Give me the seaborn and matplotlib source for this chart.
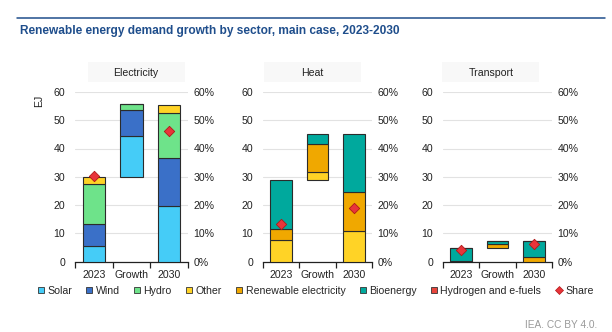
import numpy as np
import pandas as pd
import matplotlib
matplotlib.use("Agg")
import matplotlib.pyplot as plt
import seaborn as sns
from matplotlib.lines import Line2D
from matplotlib.patches import Rectangle

sns.set_theme(style="white")
plt.rcParams['font.family'] = ['Liberation Sans', 'DejaVu Sans']

# ---------------- data (EJ, share in %) ----------------
periods = ["2023", "Growth", "2030"]

elec_solar = [5.5, 14.5, 19.8]
elec_wind = [7.7, 9.0, 17.0]
elec_hydro = [14.1, 2.2, 15.9]
elec_other = [2.7, 0.0, 2.8]
elec_share = [30.2, np.nan, 46.2]

heat_other = [7.7, 2.8, 10.9]
heat_renew_elec = [3.8, 9.9, 13.8]
heat_bio = [17.5, 3.5, 20.5]
heat_share = [13.2, np.nan, 18.9]

tr_renew_elec = [0.2, 1.4, 1.5]
tr_bio = [4.5, 1.2, 5.7]
tr_hydrogen = [0.0, 0.1, 0.2]
tr_share = [4.1, np.nan, 6.2]

y_ticks = [0, 10, 20, 30, 40, 50, 60]
share_labels = ["0%", "10%", "20%", "30%", "40%", "50%", "60%"]

colors = {
    "Solar": "#45CCF7",
    "Wind": "#3A70C8",
    "Hydro": "#6EE38A",
    "Other": "#FFD326",
    "Renewable electricity": "#F0A800",
    "Bioenergy": "#00A99D",
    "Hydrogen and e-fuels": "#E8453C",
}
share_color = "#E8343A"
share_edge = "#B01818"

panels = [
    ("Electricity", [("Solar", elec_solar), ("Wind", elec_wind),
                     ("Hydro", elec_hydro), ("Other", elec_other)], elec_share,
     [75, 113], 0.54),
    ("Heat", [("Other", heat_other), ("Renewable electricity", heat_renew_elec),
              ("Bioenergy", heat_bio)], heat_share, [263, 109], 0.45),
    ("Transport", [("Renewable electricity", tr_renew_elec), ("Bioenergy", tr_bio),
                   ("Hydrogen and e-fuels", tr_hydrogen)], tr_share, [443, 109], 0.44),
]

W, H = 612, 332
fig = plt.figure(figsize=(W / 100, H / 100), dpi=100)

FS = 7.6
ax_bottom = (H - 261.5) / H
ax_height = 169.5 / H

for title, layers, share, (x0, w), cx in panels:
    ax = fig.add_axes([x0 / W, ax_bottom, w / W, ax_height])
    xs = np.arange(len(periods))
    # stacked bars; growth bar starts at 2023 total
    base_growth = sum(vals[0] for _, vals in layers)
    bottoms = np.array([0.0, base_growth, 0.0])
    for name, vals in layers:
        v = np.array(vals, dtype=float)
        ax.bar(xs, v, bottom=bottoms, width=0.6, color=colors[name],
               edgecolor="#2b2b2b", linewidth=0.8, zorder=3)
        bottoms = bottoms + v
    ax.set_xlim(-0.5, 2.5)
    ax.set_ylim(0, 60)
    ax.set_yticks(y_ticks)
    ax.set_yticklabels([str(t) for t in y_ticks], fontsize=FS, color="#222222")
    ax.yaxis.grid(True, color="#E2E2E2", linewidth=0.8, zorder=0)
    ax.set_axisbelow(True)
    ax.tick_params(axis="y", length=0, pad=7)
    # x axis: ticks at boundaries, labels centred
    ax.set_xticks([-0.5, 0.5, 1.5, 2.5])
    ax.set_xticklabels([])
    ax.set_xticks(xs, minor=True)
    ax.set_xticklabels(periods, minor=True, fontsize=FS, color="#222222")
    ax.tick_params(axis="x", which="major", direction="out", length=4, width=0.9,
                   color="#222222", bottom=True)
    ax.tick_params(axis="x", which="minor", length=0, pad=6)
    for s in ["top", "right", "left"]:
        ax.spines[s].set_visible(False)
    ax.spines["bottom"].set_color("#222222")
    ax.spines["bottom"].set_linewidth(0.9)
    ax.set_xlabel("")

    # share on secondary axis
    ax2 = ax.twinx()
    df = pd.DataFrame({"x": xs, "share": share}).dropna()
    sns.scatterplot(data=df, x="x", y="share", ax=ax2, marker="D", s=28,
                    color=share_color, edgecolor=share_edge, linewidth=0.6,
                    zorder=5, legend=False)
    ax2.set_ylim(0, 60)
    ax2.set_xlim(-0.5, 2.5)
    ax2.set_yticks(y_ticks)
    ax2.set_yticklabels(share_labels, fontsize=FS, color="#222222")
    ax2.tick_params(axis="y", length=0, pad=4)
    ax2.set_ylabel("")
    ax2.set_xlabel("")
    for s in ax2.spines.values():
        s.set_visible(False)

    # facet title with faint box
    bw = 97 / w
    ax.add_patch(Rectangle((cx - bw / 2, 1.06), bw, 0.115, transform=ax.transAxes,
                           facecolor="#F8F8F8", edgecolor="none", clip_on=False,
                           zorder=0))
    ax.text(cx, 1.115, title, transform=ax.transAxes, ha="center", va="center",
            fontsize=FS, color="#222222")

# EJ axis label
fig.text(39 / W, 1 - 101 / H, "EJ", rotation=90, ha="center", va="center",
         fontsize=FS, color="#222222")

# Title and rule
fig.add_artist(Line2D([17 / W, 605 / W], [1 - 18 / H, 1 - 18 / H],
                      color="#1F4E8C", linewidth=1.1))
fig.text(20 / W, 1 - 31 / H,
         "Renewable energy demand growth by sector, main case, 2023-2030",
         ha="left", va="center", fontsize=8.6, fontweight="bold", color="#1F4E8C")

# Legend
handles = []
for name in ["Solar", "Wind", "Hydro", "Other", "Renewable electricity",
             "Bioenergy", "Hydrogen and e-fuels"]:
    handles.append(Line2D([], [], linestyle="none", marker="s", markersize=5,
                          markerfacecolor=colors[name], markeredgecolor="#333333",
                          markeredgewidth=0.6, label=name))
handles.append(Line2D([], [], linestyle="none", marker="D", markersize=4,
                      markerfacecolor=share_color, markeredgecolor=share_edge,
                      markeredgewidth=0.5, label="Share"))
fig.legend(handles=handles, loc="center", bbox_to_anchor=(315 / W, 1 - 291 / H),
           ncol=8, frameon=False, fontsize=FS, handlelength=0.8,
           handletextpad=0.2, columnspacing=1.25, borderaxespad=0)

fig.text(597 / W, 1 - 325 / H, "IEA. CC BY 4.0.", ha="right", va="center",
         fontsize=7.3, color="#9A9A9A")

fig.savefig("out.png", dpi=100)
